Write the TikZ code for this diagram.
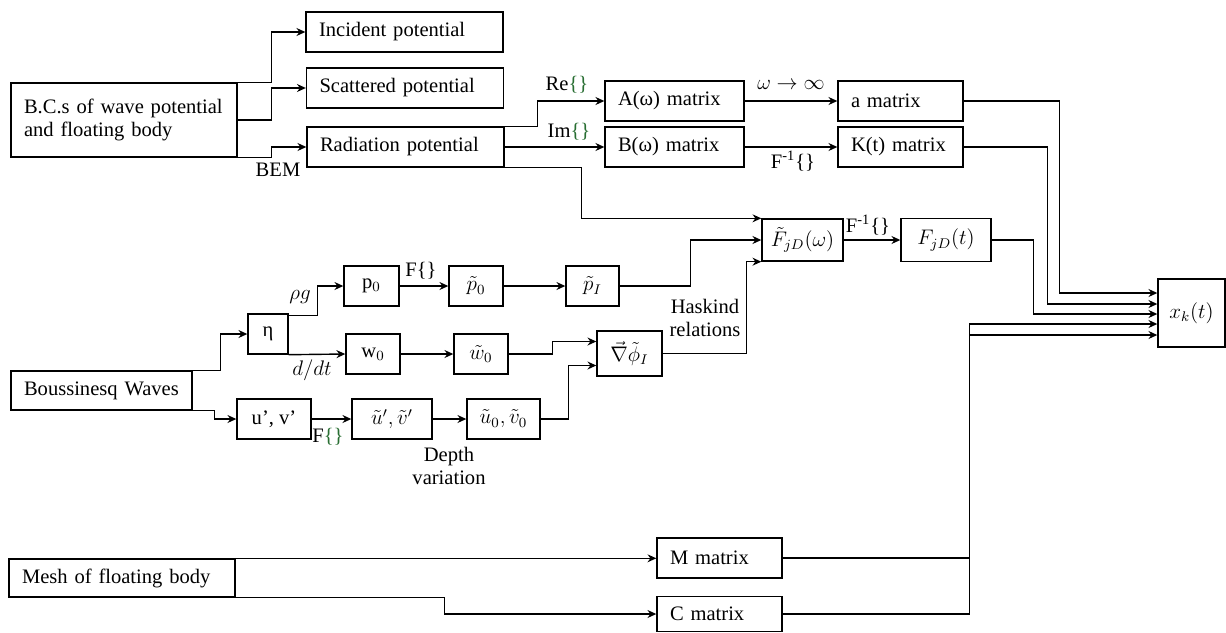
\documentclass[tikz,border=0pt]{standalone}
\usepackage{fontspec}
\setmainfont{Liberation Serif}
\usepackage{xcolor}
\definecolor{BraceGreen}{RGB}{40,110,50}
\usetikzlibrary{positioning}
\usetikzlibrary{calc}
\usetikzlibrary{arrows.meta}

\begin{document}
\begin{tikzpicture}[
    x = 0.02cm, y = -0.02cm
    , font = \fontsize{11.7}{13}\selectfont
    , blk/.style = {
      , rectangle
      , draw = black
      , line width = 0.8pt
      , inner sep = 0pt
      , minimum height = 0.8cm
    }
    , txtblk/.style = {
      blk,
      text width = #1,
      align = left,
      inner xsep = 0.26cm
    }
    , mathblk/.style = {
      blk,
      minimum width = #1
    }
    , link/.style = {
      , ->
      , >={Stealth[length=5pt, width=4.5pt]}
      , line width = 0.8pt
    }
    , lbl/.style = {
      , inner sep = 1pt
      , align = center
    }
    ]
    \path[use as bounding box, fill=white] (0,0) rectangle (1226,632);

    % boundary element part
    \node[txtblk=4.0cm, minimum height=1.48cm] (bcs) at (124,120) {B.C.s of wave potential\\and floating body};
    \node[txtblk=3.42cm] (inc) at (404.5,32) {Incident potential};
    \node[txtblk=3.42cm] (sca) at (405,88) {Scattered potential};
    \node[txtblk=3.42cm] (rad) at (405.5,147) {Radiation potential};
    \node[txtblk=2.26cm] (amat) at (674.5,101) {A(ω) matrix};
    \node[txtblk=2.26cm] (bmat) at (674.5,147) {B(ω) matrix};
    \node[txtblk=1.98cm] (asmat) at (900.5,101) {a matrix};
    \node[txtblk=1.98cm] (kmat) at (900.5,147) {K(t) matrix};
    \node[mathblk=1.62cm, minimum height=0.84cm] (ftil) at (802.5,240) {$\tilde{F}_{jD}(\omega)$};
    \node[mathblk=1.8cm, minimum height=0.86cm] (fjd) at (946,240) {$F_{jD}(t)$};
    \node[mathblk=1.34cm, minimum height=1.36cm] (xk) at (1191.5,313) {$x_k(t)$};

    % wave part
    \node[mathblk=1.1cm] (pz) at (371.5,286) {p$_0$};
    \node[mathblk=1.08cm] (pzt) at (476,286) {$\tilde{p}_0$};
    \node[mathblk=1.06cm] (pit) at (592.5,286) {$\tilde{p}_I$};
    \node[txtblk=3.10cm, minimum height=0.78cm] (bous) at (101.5,390.5) {Boussinesq Waves};
    \node[mathblk=0.8cm] (eta) at (268,334) {η};
    \node[mathblk=1.08cm] (wz) at (373,354) {w$_0$};
    \node[mathblk=1.08cm] (wzt) at (481,354) {$\tilde{w}_0$};
    \node[mathblk=1.3cm, minimum height=0.9cm] (grad) at (629.5,353.5) {$\vec{\nabla}\tilde{\phi}_I$};
    \node[mathblk=1.48cm] (uv) at (274,419) {u’, v’};
    \node[mathblk=1.6cm] (uvt) at (392,419) {$\tilde{u}', \tilde{v}'$};
    \node[mathblk=1.46cm] (uvz) at (503.5,419) {$\tilde{u}_0, \tilde{v}_0$};

    % mesh part
    \node[txtblk=4.0cm, minimum height=0.76cm] (mesh) at (122,578) {Mesh of floating body};
    \node[txtblk=1.98cm] (mmat) at (719.5,558) {M matrix};
    \node[txtblk=1.98cm, minimum height=0.7cm] (cmat) at (719.5,614) {C matrix};

    \coordinate (in1) at ($ (xk.west) + (0,-20) $);
    \coordinate (in2) at ($ (xk.west) + (0,-9) $);
    \coordinate (in3) at ($ (xk.west) + (0,1) $);
    \coordinate (in4) at ($ (xk.west) + (0,11) $);
    \coordinate (in5) at ($ (xk.west) + (0,22) $);
    \coordinate (gin1) at ($ (grad.west) + (0,-12) $);
    \coordinate (gin2) at ($ (grad.west) + (0,12) $);

    \draw[link] (bcs.north east) -- ++(34,0) |- (inc.west);
    \draw[link] (bcs.east) -- ++(34,0) |- (sca.west);
    \draw[link] (bcs.south east) -- ++(34,0) |- (rad.west);
    \node[lbl] (bem) at (278,170) {BEM};

    \draw[link] (rad.north east) -- ++(33,0) |- (amat.west);
    \draw[link] (rad.east) -- (bmat.west);
    \draw[link] (rad.south east) -- ++(77,0) |- (ftil.north west);
    \node[lbl] (relbl) at (567,85) {Re{\color{BraceGreen}\{\}}};
    \node[lbl] (imlbl) at (569,132) {Im{\color{BraceGreen}\{\}}};

    \draw[link] (amat) -- node[above, yshift=1mm] {$\omega\to\infty$} (asmat);
    \draw[link] (bmat) -- (kmat);
    \node[lbl] (finv1) at (793,161) {F\textsuperscript{-1}\{\}};
    \draw[link] (ftil) -- (fjd);
    \node[lbl] (finv2) at (868,225) {F\textsuperscript{-1}\{\}};

    \draw[link] (asmat.east) -- ++(96,0) |- (in1);
    \draw[link] (kmat.east) -- ++(84,0) |- (in2);
    \draw[link] (fjd.east) -- ++(42,0) |- (in3);

    \draw[link] (bous.north east) -- ++(28,0) |- (eta.west);
    \draw[link] (bous.south east) -- ++(22,0) |- (uv.west);
    \draw[link] ($ (eta.north east) + (0,2) $) -- ++(29,0) |- (pz.west);
    \node[lbl] (rholbl) at (300,297) {$\rho g$};
    \draw[link] (eta.south east) -- (wz.west);
    \node[lbl] (ddtlbl) at (312,370) {$d/dt$};

    \draw[link] (pz) -- (pzt);
    \node[lbl] (flbl1) at (421,271) {F\{\}};
    \draw[link] (pzt) -- (pit);
    \draw[link] (pit.east) -- ++(71,0) |- (ftil.west);

    \draw[link] (wz) -- (wzt);
    \draw[link] (wzt.east) -- ++(44,0) |- (gin1);
    \draw[link] (uv) -- (uvt);
    \node[lbl] (flbl2) at (328,437) {F{\color{BraceGreen}\{\}}};
    \draw[link] (uvt) -- (uvz);
    \node[lbl] (depth) at (449,466) {Depth\\variation};
    \draw[link] (uvz.east) -- ++(28,0) |- (gin2);
    \draw[link] (grad.east) -- ++(84,0) |- (ftil.south west);
    \node[lbl] (haskind) at (705,318) {Haskind\\relations};

    \draw[link] (mesh.north east) -- (mesh.north east -| mmat.west);
    \draw[link] (mesh.south east) -- ++(209,0) |- (cmat.west);
    \draw[link] (mmat.east) -- ++(187,0) |- (in5);
    \draw[link] (cmat.east) -- ++(187,0) |- (in4);
  \end{tikzpicture}
\end{document}
